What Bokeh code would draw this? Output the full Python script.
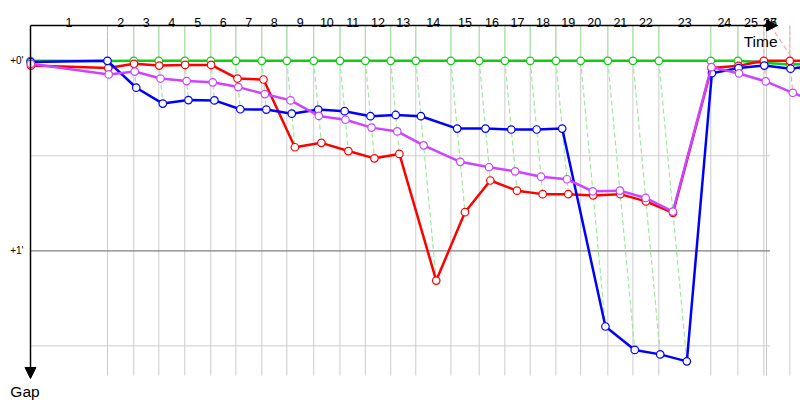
from bokeh.plotting import figure
from bokeh.models import Range1d, Arrow, NormalHead
from bokeh.core.properties import value
from bokeh.embed import file_html
from bokeh.resources import INLINE

# ---------------- data ----------------
# leader's crossing time (s) at the end of each lap, lap 0 .. 27
lap_times = [0, 261, 350, 435, 523, 611, 696, 784, 869, 960, 1049, 1135, 1221,
             1306, 1425, 1521, 1608, 1694, 1781, 1865, 1957, 2042, 2130, 2306,
             2398, 2486, 2574, 2662]
extra_grid_times = [2495]
time_axis_end = 2507

# leader of each lap (lap 0 .. 27)
leaders = ["green", "blue"] + ["green"] * 23 + ["red"] * 3

# gap to leader (s) at each lap end, lap 0 .. 27
gap_green = [0, 0.1] + [0] * 23 + [0.6, 1.2, 1.0]
gap_red = [1.5, 2.3, 0.95, 1.5, 1.3, 1.3, 5.6, 5.9, 27.3, 25.9, 28.5, 30.8, 29.4,
           69.4, 47.8, 37.8, 41.0, 42.1, 42.1, 42.5, 42.1, 44.4, 48.0, 2.3, 1.6,
           0, 0, 0]
gap_blue = [0.4, 0, 8.5, 13.5, 12.4, 12.5, 15.3, 15.4, 16.7, 15.4, 15.9, 17.5,
            17.1, 17.5, 21.4, 21.4, 21.7, 21.7, 21.4, 83.9, 91.3, 92.7, 94.9,
            3.9, 2.3, 1.5, 2.5, 1.4]
gap_purple = [0.95, 4.3, 3.4, 5.6, 6.4, 6.8, 8.3, 10.5, 12.5, 17.4, 18.6, 21.1,
              22.3, 26.7, 31.9, 33.6, 34.9, 36.6, 37.4, 41.2, 41.0, 43.3, 47.6,
              2.0, 4.0, 6.5, 10.1, 13.5]

lap_labels = [str(k) for k in range(1, 28)]
y_ticks = [0, 60]
y_tick_labels = ["+0'", "+1'"]
minor_gap_lines = [30, 90]
major_gap_lines = [0, 60]

# extra dashed line at the top right (leader colour)
extra_dash_x = [2508, 2660]
extra_dash_y = [-11.1, 10.0]

# ---------------- layout ----------------
W, H = 800, 400
X0, SX = 30.0, 0.295     # px of t=0, px per second
Y0, SY = 60.3, 3.167     # px of gap=0, px per second


def tx(px):
    return (px - X0) / SX


def gy(py):
    return (py - Y0) / SY


gap_top = gy(25)
gap_bottom = gy(375)

series = [("green", gap_green, "#11cc11"),
          ("red", gap_red, "#ff0000"),
          ("blue", gap_blue, "#0000ff"),
          ("purple", gap_purple, "#cc44ff")]
light = {"green": "#9ee89e", "red": "#ffa8a8", "blue": "#b0b0ff"}

p = figure(width=W, height=H,
           x_range=Range1d(tx(0), tx(W)), y_range=Range1d(gy(H), gy(0)),
           x_axis_type=None, y_axis_type=None,
           toolbar_location=None, output_backend="svg",
           min_border=0, outline_line_color=None)
p.background_fill_color = "white"
p.border_fill_color = "white"

# vertical grid
grid_t = lap_times[1:] + extra_grid_times
p.segment(x0=grid_t, y0=[gap_top] * len(grid_t), x1=grid_t,
          y1=[gap_bottom] * len(grid_t), line_color="#cccccc", line_width=1)

# horizontal grid
p.segment(x0=[0] * len(minor_gap_lines), y0=minor_gap_lines,
          x1=[time_axis_end] * len(minor_gap_lines), y1=minor_gap_lines,
          line_color="#cccccc", line_width=1)
p.segment(x0=[0] * len(major_gap_lines), y0=major_gap_lines,
          x1=[time_axis_end] * len(major_gap_lines), y1=major_gap_lines,
          line_color="#808080", line_width=1.3)

# leader lines: vertical above zero, slanted dashed "time" lines below
for k in range(1, len(lap_times)):
    t = lap_times[k]
    ld = leaders[k]
    gmax = max(g[k] for _, g, _ in series)
    dash = "solid" if ld == "green" else "4 2"
    p.segment(x0=[t], y0=[gap_top], x1=[t], y1=[0],
              line_color=light[ld], line_width=1, line_dash=dash)
    p.segment(x0=[t], y0=[0], x1=[t + gmax], y1=[gmax],
              line_color=light[ld], line_width=1.2, line_dash="5 3")

p.line(extra_dash_x, extra_dash_y, line_color=light["red"], line_width=1.2,
       line_dash="5 3")

# data series
for name, gaps, col in series:
    xs = [lap_times[k] + gaps[k] for k in range(len(gaps))]
    p.line(xs, gaps, line_color=col, line_width=2.5)
    p.scatter(xs, gaps, size=7.5, marker="circle", fill_color="white",
              line_color=col, line_width=1.2)

# axes with arrows
p.add_layout(Arrow(end=NormalHead(size=11, fill_color="black", line_color="black"),
                   x_start=0, y_start=gap_top, x_end=tx(777), y_end=gap_top,
                   line_color="black", line_width=1.5))
p.add_layout(Arrow(end=NormalHead(size=11, fill_color="black", line_color="black"),
                   x_start=0, y_start=gap_top, x_end=0, y_end=gy(378),
                   line_color="black", line_width=1.5))

# lap labels (centred in each lap, clamped to axis end)
lab_x = [min((lap_times[k - 1] + lap_times[k]) / 2, time_axis_end)
         for k in range(1, len(lap_times))]
p.text(x=lab_x, y=[gy(21.5)] * len(lab_x), text=lap_labels,
       text_font=value("Liberation Sans"), text_font_size="12.5px",
       text_align="center", text_baseline="alphabetic", text_color="black")

# gap tick labels
p.text(x=[tx(23)] * len(y_ticks), y=y_ticks, text=y_tick_labels,
       text_font=value("Liberation Sans"), text_font_size="10px",
       text_align="right", text_baseline="middle", text_color="black")

# axis titles
p.text(x=[tx(777)], y=[gy(41)], text=["Time"],
       text_font=value("Liberation Sans"), text_font_size="15.5px",
       text_align="right", text_baseline="alphabetic", text_color="black")
p.text(x=[tx(24.5)], y=[gy(391)], text=["Gap"],
       text_font=value("Liberation Sans"), text_font_size="15.5px",
       text_align="center", text_baseline="alphabetic", text_color="black")

open("out.html", "w").write(file_html(p, INLINE))
